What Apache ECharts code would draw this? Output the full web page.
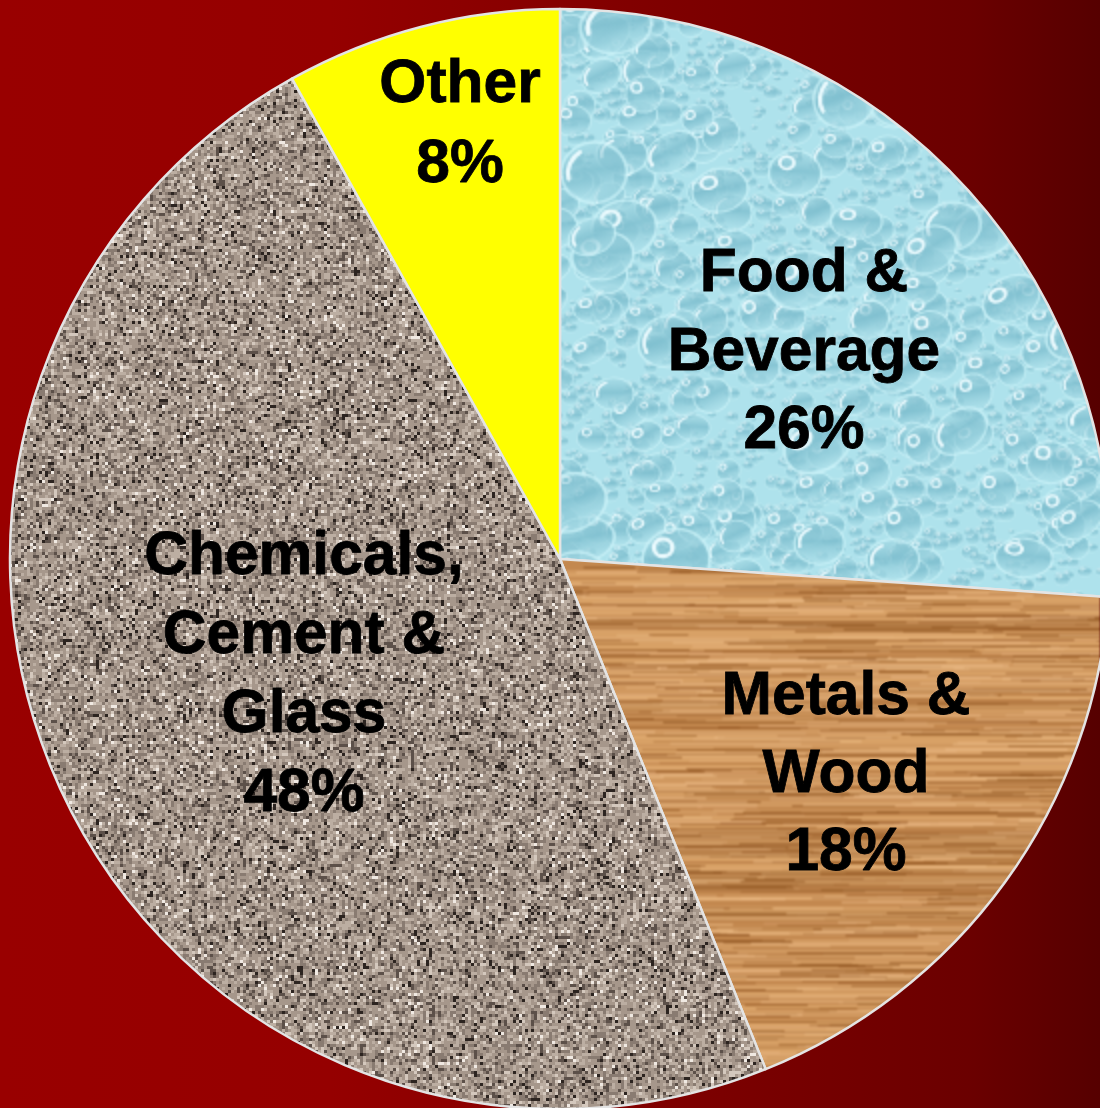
<!DOCTYPE html>
<html><head><meta charset="utf-8">
<style>html,body{margin:0;padding:0;background:#800000}#c{width:1100px;height:1108px}</style>
<script src="https://cdn.jsdelivr.net/npm/echarts@6/dist/echarts.min.js"></script>
</head><body><div id="c"></div>
<script>
const categories = ['Food &\nBeverage', 'Metals &\nWood', 'Chemicals,\nCement &\nGlass', 'Other'];
const shares = [26.1, 17.8, 48.0, 8.1];
const labelCentres = [[804, 353], [846, 775], [304, 676], [460, 125]];
const labelLineHeights = [78.5, 78, 79, 80];

const W = 1100, H = 1108;
function lcg(seed){let s=seed>>>0;return ()=>{s=(Math.imul(s,1664525)+1013904223)>>>0;return s/4294967296;};}
function mk(w,h){const c=document.createElement('canvas');c.width=w||W;c.height=h||H;return c;}

function granite(){
  const c=mk(),g=c.getContext('2d'),r=lcg(11),b=3;
  for(let y=0;y<H;y+=b)for(let x=0;x<W;x+=b){
    const t=r();let col;
    if(t<.05)col='#2c2420';else if(t<.15)col='#5c5049';else if(t<.36)col='#897b71';
    else if(t<.68)col='#a6978b';else if(t<.89)col='#bcaea2';else if(t<.97)col='#d4c8bd';else col='#f0e9e2';
    g.fillStyle=col;g.fillRect(x,y,b,b);
  }
  return c;
}
function wood(){
  const raw=mk(),g=raw.getContext('2d'),r=lcg(29);
  g.fillStyle='#d29a60';g.fillRect(0,0,W,H);
  for(let y=540;y<H;y+=3){
    const band=r();
    g.fillStyle=band<.3?'rgba(170,108,52,.38)':band<.65?'rgba(228,174,116,.35)':'rgba(205,148,90,.25)';
    g.fillRect(0,y,W,3);
  }
  for(let i=0;i<1300;i++){
    const x=500+r()*620,y=540+r()*568,l=30+r()*170,v=r();
    g.fillStyle=v<.5?`rgba(140,80,28,${.2+r()*.4})`:`rgba(238,190,138,${.15+r()*.3})`;
    g.fillRect(x,y,l,v<.5?2:3);
  }
  [[830,28],[870,22],[910,12],[700,10],[620,10]].forEach(([y,h])=>{
    g.fillStyle='rgba(135,80,28,.2)';g.fillRect(0,y,W,h);
  });
  const c=mk(),o=c.getContext('2d');
  o.filter='blur(0.9px)';o.drawImage(raw,0,0);
  return c;
}
function drop(g,x,y,rx,ry,rot,streak){
  g.save();g.translate(x,y);g.rotate(rot);g.scale(1,ry/rx);
  const gr=g.createLinearGradient(0,-rx,0,rx);
  gr.addColorStop(0,'rgba(150,205,218,.28)');
  gr.addColorStop(.45,'rgba(128,192,208,.85)');
  gr.addColorStop(1,'rgba(176,226,236,.55)');
  g.fillStyle=gr;g.beginPath();g.arc(0,0,rx,0,Math.PI*2);g.fill();
  g.strokeStyle='rgba(205,243,249,.7)';g.lineWidth=Math.max(.6,rx*.1);
  g.beginPath();g.arc(0,0,rx*1.02,0,Math.PI*2);g.stroke();
  g.strokeStyle='rgba(238,252,255,.95)';g.lineWidth=Math.max(.6,rx*.14);g.lineCap='round';
  g.beginPath();
  if(streak){g.arc(0,0,rx*.82,Math.PI*.95,Math.PI*1.35);}
  else{g.arc(-rx*.35,-rx*.45,rx*.28,0,Math.PI*2);}
  g.stroke();
  g.restore();
}
function water(){
  const s=2,raw=mk(W/s,H/s),g=raw.getContext('2d'),r=lcg(73);
  g.scale(1/s,1/s);
  g.fillStyle='#aee2ec';g.fillRect(0,0,W,H);
  for(let i=0;i<2200;i++){
    const x=550+r()*560,y=r()*610,d=3+r()*6;
    drop(g,x,y,d,d*(.75+r()*.3),0,false);
  }
  for(let i=0;i<320;i++){
    const x=550+r()*560,y=r()*610,d=10+r()*11;
    drop(g,x,y,d,d*(.7+r()*.3),-.5+r()*.6,r()<.3);
  }
  for(let i=0;i<40;i++){
    const x=550+r()*560,y=r()*610,d=22+r()*14;
    drop(g,x,y,d,d*(.65+r()*.3),-.6+r()*.7,r()<.6);
  }
  const c=mk(),o=c.getContext('2d');
  o.imageSmoothingEnabled=true;o.drawImage(raw,0,0,W,H);
  return c;
}

const textures=[water(),wood(),granite(),null];
const fills=textures.map(t=>t?{image:t,repeat:'no-repeat'}:'#ffff00');

const chart=echarts.init(document.getElementById('c'),null,{renderer:'canvas'});
chart.setOption({
  animation:false,
  backgroundColor:{type:'linear',x:0,y:0,x2:1,y2:0,colorStops:[
    {offset:0,color:'#990000'},{offset:.3,color:'#950000'},{offset:.6,color:'#7f0000'},
    {offset:.88,color:'#6b0000'},{offset:1,color:'#560000'}]},
  series:[{
    type:'pie',
    center:[560,559],
    radius:[0,550],
    startAngle:90,
    clockwise:true,
    silent:true,
    percentPrecision:0,
    avoidLabelOverlap:false,
    labelLine:{show:false},
    itemStyle:{borderColor:'#e4e4e4',borderWidth:2.5},
    label:{
      show:true,position:'inside',formatter:'{b}\n{d}%',
      fontFamily:'"Liberation Sans",Arial,sans-serif',fontWeight:'bold',fontSize:60.5,
      color:'#000',textBorderColor:'#000',textBorderWidth:0.8,
      align:'center',verticalAlign:'middle'
    },
    labelLayout:p=>({x:labelCentres[p.dataIndex][0],y:labelCentres[p.dataIndex][1],align:'center',verticalAlign:'middle'}),
    data:categories.map((name,i)=>({
      name,value:shares[i],
      itemStyle:{color:fills[i]},
      label:{lineHeight:labelLineHeights[i]}
    }))
  }]
});
</script></body></html>
